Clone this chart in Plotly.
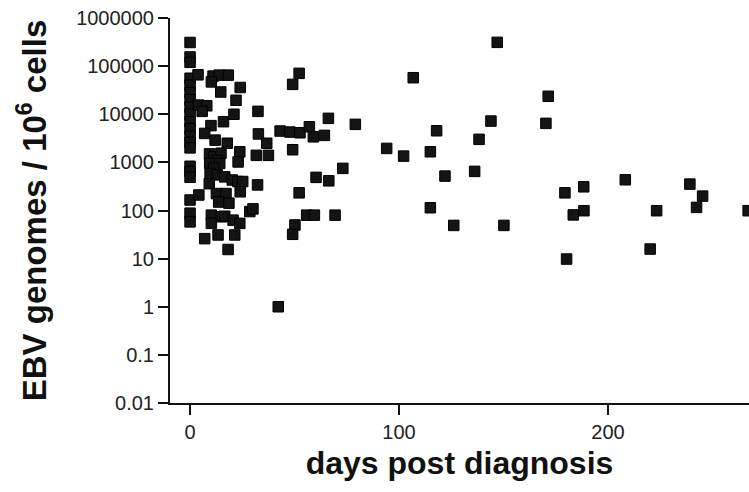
import plotly.graph_objects as go

# ---- data ----
days_col0 = [0]*20
ebv_col0 = [310000, 155000, 120000, 56000, 40000, 28000, 20000, 14000, 10000, 7000,
            5000, 3500, 2600, 2000, 830, 650, 490, 165, 88, 58]

days_early = [3.8, 4, 8, 5.8,
              11, 14, 18.3, 10.2, 14.7, 24, 22, 21, 32.5,
              16, 10, 7, 12, 17.8, 32.7, 36.7,
              9.3, 11.4, 14.8, 13, 23.8, 23, 31.7, 37.5,
              9.4, 14.2, 11.4, 9.6, 13, 16.6, 9.2, 20.2, 22.9, 25.2, 32.3,
              4.2, 12.6, 17.2, 13.7, 18.6, 24, 28.6, 30.1,
              10.2, 10.2, 7, 13.4, 15, 16.6, 20.6, 23.8, 21.4, 18.2]
ebv_early = [66000, 15500, 15000, 11500,
             62000, 65000, 65000, 47000, 29000, 36000, 19500, 10000, 11500,
             7000, 5800, 4000, 2900, 2500, 3900, 2500,
             1500, 1300, 1550, 1100, 1660, 1020, 1400, 1400,
             950, 950, 760, 590, 550, 500, 360, 430, 400, 400, 340,
             210, 225, 225, 150, 142, 245, 95, 108,
             80, 54, 26, 31, 74, 76, 63, 54, 31, 15.5]

days_late = [42.2, 43.1, 47.8, 52.6, 57.1, 59.0, 64.3, 66.2, 49.1, 52.2, 49.1, 79.1,
             73.1, 60.3, 66.4, 52.2, 55.8, 59.5, 69.4, 50.2, 49.1, 94.1, 102.2, 106.8,
             115.0, 115.0, 118.0, 122.0, 126.2, 136.2, 138.3, 144.0, 147.0, 150.2,
             171.4, 170.3, 179.4, 180.2, 183.4, 188.4, 188.5, 208.3, 220.2, 223.3,
             239.2, 242.4, 245.3, 267.1]
ebv_late = [1.0, 4480, 4270, 4120, 5490, 3400, 3640, 8220, 1830, 70800, 41800, 6170,
            750, 488, 414, 233, 80, 80, 80, 50, 32, 1950, 1350, 57400,
            1660, 114, 4540, 519, 49, 650, 3010, 7220, 312000, 49,
            23600, 6470, 233, 9.8, 81, 311, 99, 435, 15.8, 99,
            354, 116, 199, 99]

y_tickvals = [0.01, 0.1, 1, 10, 100, 1000, 10000, 100000, 1000000]
y_ticktext = ["0.01", "0.1", "1", "10", "100", "1000", "10000", "100000", "1000000"]
x_tickvals = [0, 100, 200]

days = days_col0 + days_early + days_late
ebv = ebv_col0 + ebv_early + ebv_late

fig = go.Figure()
fig.add_trace(go.Scatter(
    x=days, y=ebv, mode="markers",
    marker=dict(symbol="square", size=10.5, color="#141414",
                line=dict(width=1, color="#000000")),
    showlegend=False,
))

font_family = "Liberation Sans, Arial, sans-serif"
fig.update_layout(
    width=749, height=492,
    margin=dict(l=170, r=0, t=18, b=89),
    paper_bgcolor="white", plot_bgcolor="white",
    font=dict(family=font_family, color="#1a1a1a"),
    xaxis=dict(
        range=[-9.6, 267.5], tickvals=x_tickvals, ticks="outside", ticklen=10,
        tickwidth=2, tickcolor="#111", showline=True, linewidth=2, linecolor="#111",
        showgrid=False, zeroline=False, tickfont=dict(size=20, color="#222"),
        title=dict(text="<b>days post diagnosis</b>", font=dict(size=32, color="#111"),
                   standoff=10),
    ),
    yaxis=dict(
        type="log", range=[-2, 6], tickvals=y_tickvals, ticktext=y_ticktext,
        ticks="outside", ticklen=10, tickwidth=2, tickcolor="#111",
        showline=True, linewidth=2, linecolor="#111", showgrid=False, zeroline=False,
        tickfont=dict(size=20, color="#222"),
        title=dict(text="<b>EBV genomes / 10<sup>6</sup> cells</b>",
                   font=dict(size=33, color="#111"), standoff=20),
    ),
)

fig.write_html("out.html")
